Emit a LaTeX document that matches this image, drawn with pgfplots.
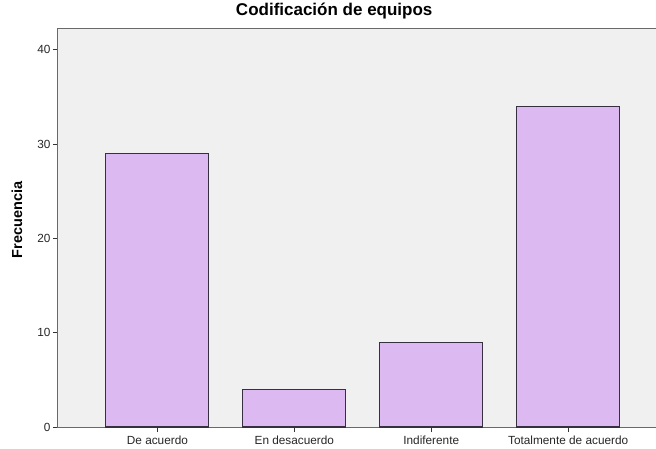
\documentclass[border=0pt]{standalone}
\usepackage{fontspec}
\setmainfont{Liberation Sans}
\usepackage{pgfplots}
\pgfplotsset{compat=1.18}
\definecolor{panel}{RGB}{240,240,240}
\definecolor{barfill}{RGB}{221,185,242}
\definecolor{baredge}{RGB}{55,48,65}
\definecolor{axisgray}{RGB}{105,105,105}
\begin{document}
\begin{tikzpicture}
\begin{axis}[
  scale only axis,
  width=598.5pt, height=398pt,
  xmin=-0.726, xmax=3.645,
  ymin=0, ymax=42.2,
  axis background/.style={fill=panel},
  axis line style={axisgray, line width=1pt},
  xtick={0,1,2,3},
  xticklabels={De acuerdo, En desacuerdo, Indiferente, Totalmente de acuerdo},
  ytick={0,10,20,30,40},
  tick align=outside, tick pos=left,
  major tick length=5pt,
  tick style={black!80, line width=1pt},
  ticklabel style={font=\fontsize{11.8}{14}\selectfont, text=black!85},
  yticklabel style={xshift=1pt},
  /pgf/number format/assume math mode=true,
  title={Codificación de equipos},
  title style={font=\bfseries\fontsize{17}{20}\selectfont,
    at={(axis description cs:0.4615,1)}, anchor=base, yshift=7pt},
  ylabel={Frecuencia},
  ylabel style={font=\bfseries\fontsize{14.5}{17}\selectfont,
    at={(axis description cs:-0.0686,0.52)}, anchor=center},
]
\addplot[ybar, bar width=103pt, bar shift=0pt, fill=barfill, draw=baredge, line width=1.1pt]
  coordinates {(0,29) (1,4) (2,9) (3,34)};
\end{axis}
\pgfresetboundingbox
\path[use as bounding box] ([shift={(-58pt,-21pt)}]current axis.south west)
  rectangle ([shift={(-0.5pt,29pt)}]current axis.north east);
\end{tikzpicture}
\end{document}
